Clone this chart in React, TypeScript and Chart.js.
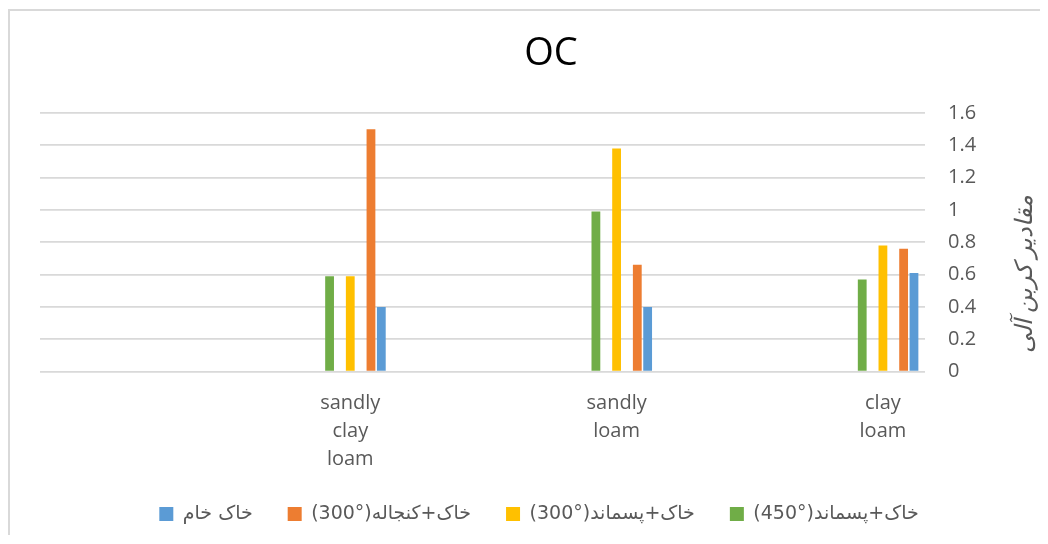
import React, { useEffect, useRef } from 'react';
import { Chart, registerables } from 'chart.js';

Chart.register(...registerables);

// Categories (first category is drawn on the right: reversed, right-to-left axis)
const categories = ['clay loam', 'sandly loam', 'sandly clay loam', ''];
const chartTitle = 'OC';
const yAxisTitle = 'مقادیر کربن آلی';

const seriesNames = ['خاک+پسماند(°450)', 'خاک+پسماند(°300)', 'خاک+کنجاله(°300)', 'خاک خام'];
const soilWaste450 = [0.57, 0.99, 0.59];
const soilWaste300 = [0.78, 1.38, 0.59];
const soilMeal300 = [0.76, 0.66, 1.5];
const rawSoil = [0.61, 0.4, 0.4];
const emptySeries = [null, null, null];

const yMin = 0;
const yMax = 1.6;
const yStep = 0.2;

const colors = ['#70ad47', '#ffc000', '#ed7d31', '#5b9bd5'];
const FONT = '"Open Sans", "DejaVu Sans", sans-serif';
const LEGEND_FONT = '"Liberation Sans Narrow", "DejaVu Sans", sans-serif';

// draws the vertical axis title rotated -90deg (reads top-to-bottom for RTL text)
const yTitlePlugin = {
  id: 'yTitleRotated',
  afterDraw(chart: any) {
    const { ctx, chartArea } = chart;
    const yScale = chart.scales.y;
    ctx.save();
    ctx.translate(yScale.right - 13, (chartArea.top + chartArea.bottom) / 2 + 32);
    ctx.rotate(-Math.PI / 2);
    ctx.font = `italic 24px ${FONT}`;
    ctx.fillStyle = '#595959';
    ctx.textAlign = 'center';
    ctx.textBaseline = 'middle';
    ctx.fillText(yAxisTitle, 0, 0);
    ctx.restore();
  },
};

// nudge the chart title block to match the reference centring
const titleShiftPlugin = {
  id: 'titleShift',
  afterLayout(chart: any) {
    if (chart.titleBlock) chart.titleBlock.left += 24;
  },
};

export default function App() {
  const ref = useRef<HTMLCanvasElement | null>(null);

  useEffect(() => {
    if (!ref.current) return;
    const blank = () => ({
      label: '',
      data: emptySeries,
      backgroundColor: 'rgba(0,0,0,0)',
    });
    const chart = new Chart(ref.current, {
      type: 'bar',
      data: {
        labels: categories.map((_, i) => i),
        datasets: [
          blank(),
          { label: seriesNames[0], data: soilWaste450, backgroundColor: colors[0] },
          blank(),
          { label: seriesNames[1], data: soilWaste300, backgroundColor: colors[1] },
          blank(),
          { label: seriesNames[2], data: soilMeal300, backgroundColor: colors[2] },
          { label: seriesNames[3], data: rawSoil, backgroundColor: colors[3] },
        ] as any,
      },
      plugins: [yTitlePlugin, titleShiftPlugin],
      options: {
        responsive: false,
        animation: false,
        layout: { padding: { left: 30, right: 10, top: 0, bottom: 2.5 } },
        datasets: {
          bar: { categoryPercentage: 0.272, barPercentage: 0.85 },
        } as any,
        scales: {
          x: {
            type: 'linear',
            reverse: true,
            offset: false,
            min: -0.158,
            max: 3.165,
            grid: { display: false, drawTicks: false },
            border: { display: false },
            afterBuildTicks: (scale: any) => {
              scale.ticks = categories.map((_, i) => ({ value: i }));
            },
            afterFit: (scale: any) => {
              scale.height = 98;
            },
            ticks: {
              padding: 18,
              color: '#595959',
              font: { family: FONT, size: 20, lineHeight: '28px' },
              maxRotation: 0,
              autoSkip: false,
              callback: (v: any) => {
                const c = categories[Math.round(Number(v))] || '';
                return c ? c.split(' ') : '';
              },
            },
          },
          y: {
            position: 'right',
            min: yMin,
            max: yMax,
            grid: { color: '#d9d9d9', lineWidth: 1.7, drawTicks: false },
            border: { display: false },
            afterFit: (scale: any) => {
              scale.width = 113;
            },
            ticks: {
              stepSize: yStep,
              padding: 23,
              color: '#595959',
              font: { family: FONT, size: 20 },
              callback: (v: any) => String(parseFloat(Number(v).toFixed(1))),
            },
          },
        },
        plugins: {
          title: {
            display: true,
            text: chartTitle,
            color: '#000000',
            padding: { top: 20, bottom: 36.4 },
            font: { family: FONT, size: 38, weight: 'normal' },
          },
          tooltip: { enabled: false },
          legend: {
            position: 'bottom',
            reverse: true,
            textDirection: 'rtl',
            labels: {
              boxWidth: 14,
              boxHeight: 14,
              padding: 35,
              color: '#595959',
              textAlign: 'left',
              font: { family: LEGEND_FONT, size: 19 },
              filter: (item: any) => item.text !== '',
            },
          } as any,
        },
      },
    });
    return () => chart.destroy();
  }, []);

  return (
    <div
      style={{
        position: 'relative',
        top: 1,
        width: 1040,
        height: 527,
        boxSizing: 'border-box',
        borderTop: '2px solid #d9d9d9',
        borderLeft: '2px solid #d9d9d9',
        overflow: 'hidden',
        background: '#ffffff',
      }}
    >
      <canvas ref={ref} width={1038} height={525} style={{ display: 'block' }} />
    </div>
  );
}
